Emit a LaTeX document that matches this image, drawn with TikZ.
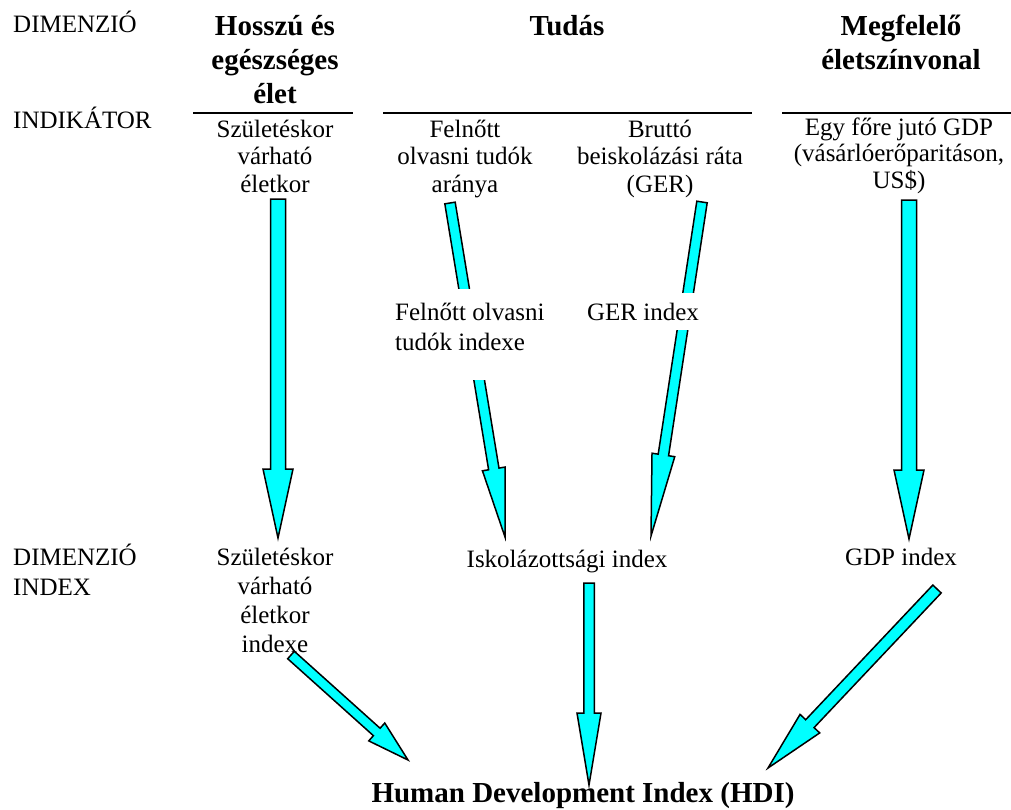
\documentclass[tikz,border=0pt]{standalone}
\usepackage{fontspec}
\setmainfont{LiberationSerif}[Extension=.ttf, UprightFont=*-Regular, BoldFont=*-Bold, ItalicFont=*-Italic, BoldItalicFont=*-BoldItalic]
\usetikzlibrary{calc}
\definecolor{aqua}{RGB}{0,255,255}
\newcommand{\mlc}[1]{\begin{tabular}[t]{@{}c@{}}#1\end{tabular}}
\newcommand{\mll}[1]{\begin{tabular}[t]{@{}l@{}}#1\end{tabular}}
\newcommand{\fatarrow}[5]{%
  \coordinate (#2-hb) at ($(#2)!#5!(#1)$);
  \draw[fat] ($(#1)!#3!90:(#2)$) -- ($(#2-hb)!#3!90:(#2)$) -- ($(#2-hb)!#4!90:(#2)$) -- (#2)
    -- ($(#2-hb)!#4!-90:(#2)$) -- ($(#2-hb)!#3!-90:(#2)$) -- ($(#1)!#3!-90:(#2)$) -- cycle;}
\begin{document}
\begin{tikzpicture}[x=1pt,y=-1pt,
  lbl/.style={inner sep=0pt, anchor=base, font=\fontsize{25}{27.5}\selectfont},
  lblw/.style={lbl, anchor=base west},
  brk/.style={lbl, fill=white, inner xsep=2pt, inner ysep=10pt},
  head/.style={inner sep=0pt, anchor=base, font=\fontsize{29}{34}\selectfont\bfseries},
  rule/.style={line width=2.2pt},
  fat/.style={draw=black, line width=1.5pt, fill=aqua, line join=miter}]
\useasboundingbox (0,0) rectangle (1011,809);
% rules
\coordinate (r1a) at (193,113); \coordinate (r1b) at (353,113);
\coordinate (r2a) at (383,113); \coordinate (r2b) at (752,113);
\coordinate (r3a) at (782,113); \coordinate (r3b) at (1011,113);
\draw[rule] (r1a) -- (r1b);
\draw[rule] (r2a) -- (r2b);
\draw[rule] (r3a) -- (r3b);
% arrow endpoints
\coordinate (a1s) at (278,199); \coordinate (a1t) at (278,538);
\coordinate (a2s) at (909,200); \coordinate (a2t) at (909,539);
\coordinate (a3s) at (450,203); \coordinate (a3t) at (505,537);
\coordinate (a4s) at (702,202); \coordinate (a4t) at (651,536);
\coordinate (a5s) at (589,583); \coordinate (a5t) at (589,785);
\coordinate (a6s) at (291,655); \coordinate (a6t) at (408,760);
\coordinate (a7s) at (937,589); \coordinate (a7t) at (768,768);
\fatarrow{a1s}{a1t}{7.5pt}{15pt}{69pt}
\fatarrow{a2s}{a2t}{7.5pt}{15pt}{69pt}
\fatarrow{a3s}{a3t}{5.25pt}{11.5pt}{69pt}
\fatarrow{a4s}{a4t}{5.25pt}{11.5pt}{82pt}
\fatarrow{a5s}{a5t}{5.25pt}{12pt}{72pt}
\fatarrow{a7s}{a7t}{5.75pt}{13.5pt}{61pt}
% row labels
\node[lblw] (dim1) at (13,32) {DIMENZIÓ};
\node[lblw] (ind) at (13,128) {INDIKÁTOR};
\node[lblw, font=\fontsize{25}{30}\selectfont] (dim2) at (13,565) {\mll{DIMENZIÓ\\INDEX}};
% headings
\node[head] (h1) at (275,35) {\mlc{Hosszú és\\egészséges\\élet}};
\node[head] (h2) at (567,35) {Tudás};
\node[head] (h3) at (901,35) {\mlc{Megfelelő\\életszínvonal}};
% indicators
\node[lbl] (i1) at (275,137) {\mlc{Születéskor\\várható\\életkor}};
\node[lbl] (i2) at (465,137) {\mlc{Felnőtt\\olvasni tudók\\aránya}};
\node[lbl] (i3) at (660,137) {\mlc{Bruttó\\beiskolázási ráta\\(GER)}};
\node[lbl, font=\fontsize{25}{26.5}\selectfont] (i4) at (899,135) {\mlc{Egy főre jutó GDP\\(vásárlóerőparitáson,\\US\$)}};
% intermediate indices
\node[brk, anchor=base west, font=\fontsize{25}{30}\selectfont] (m1) at (393,320) {\mll{Felnőtt olvasni\\tudók indexe\rule[-20pt]{0pt}{0pt}}};
\node[brk] (m2) at (643,320) {GER index};
% dimension indices
\node[lbl, font=\fontsize{25}{29}\selectfont] (d1) at (275,565) {\mlc{Születéskor\\várható\\életkor\\indexe}};
\node[lbl] (d2) at (567,567) {Iskolázottsági index};
\node[lbl] (d3) at (901,565) {GDP index};
% HDI
\node[head] (hdi) at (583,802) {Human Development Index (HDI)};
\fatarrow{a6s}{a6t}{5pt}{12pt}{42pt}
\end{tikzpicture}
\end{document}
